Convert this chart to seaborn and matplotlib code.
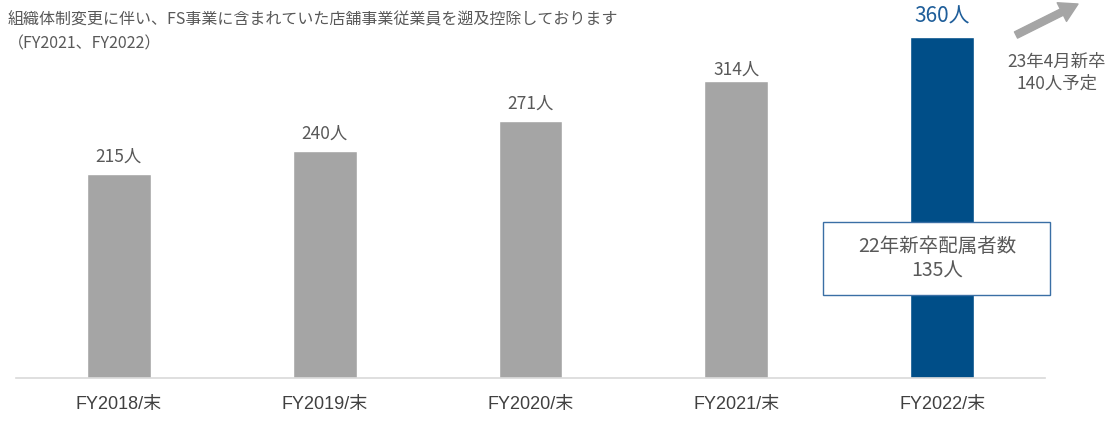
import matplotlib
matplotlib.use("Agg")
import matplotlib.pyplot as plt
from matplotlib.patches import Rectangle
import seaborn as sns
import pandas as pd

# data
years = ["FY2018/末", "FY2019/末", "FY2020/末", "FY2021/末", "FY2022/末"]
staff = [215, 240, 271, 314, 360]
bar_colors = ["#a5a5a5", "#a5a5a5", "#a5a5a5", "#a5a5a5", "#004e88"]
note_lines = ["組織体制変更に伴い、FS事業に含まれていた店舗事業従業員を遡及控除しております",
              "（FY2021、FY2022）"]
box_text = "22年新卒配属者数\n135人"
plan_text = "23年4月新卒\n140人予定"

sns.set_style("white")
plt.rcParams["font.family"] = ["Noto Sans CJK JP", "DejaVu Sans"]

df = pd.DataFrame({"year": years, "staff": staff})

W, H = 1113, 424
fig = plt.figure(figsize=(W / 100, H / 100), dpi=100)
ax = fig.add_axes([16 / W, 46 / H, (1045 - 16) / W, 360 / H])

sns.barplot(data=df, x="year", y="staff", hue="year", palette=bar_colors,
            legend=False, width=0.31, saturation=1, ax=ax)

ax.set_xlim(-0.5, 4.5)
ax.set_ylim(0, 380)
ax.set_xlabel("")
ax.set_ylabel("")
ax.set_yticks([])
for s in ["top", "right", "left"]:
    ax.spines[s].set_visible(False)
ax.spines["bottom"].set_color("#d9d9d9")
ax.spines["bottom"].set_linewidth(1.2)
ax.tick_params(axis="x", length=0, pad=13, labelsize=13, labelcolor="#404040")
for lab in ax.get_xticklabels():
    lab.set_family(["Liberation Sans", "Noto Sans CJK JP"])

# value labels (gap above bar in points)
gaps = [6, 6, 6, 1, 7]
for i, v in enumerate(staff):
    last = i == len(staff) - 1
    ax.annotate(f"{v}人", xy=(i, v), xytext=(0, gaps[i]), textcoords="offset points",
                ha="center", va="bottom", fontsize=15 if last else 12.5,
                color="#1f5e9a" if last else "#595959")

# note at top left
fig.text(8 / W, 1 - 11 / H, note_lines[0], ha="left", va="top", fontsize=11.5, color="#595959")
fig.text(8 / W, 1 - 35 / H, note_lines[1], ha="left", va="top", fontsize=11.5, color="#595959")

# box over the last bar
fig.add_artist(Rectangle((823 / W, 1 - 295 / H), 227 / W, 73 / H, transform=fig.transFigure,
                         facecolor="white", edgecolor="#3a6fa5", linewidth=1))
fig.text(937 / W, 1 - 259 / H, box_text, ha="center", va="center", fontsize=14,
         color="#595959", linespacing=1.25)

# arrow and plan text
ax.annotate("", xy=(1078, H - 4), xytext=(1016, H - 35),
            xycoords="figure pixels", textcoords="figure pixels",
            arrowprops=dict(width=5, headwidth=15, headlength=13, color="#a5a5a5"),
            annotation_clip=False)
fig.text(1057 / W, 1 - 73 / H, plan_text, ha="center", va="center", fontsize=12.5,
         color="#595959", linespacing=1.25)

fig.savefig("out.png", dpi=100)
